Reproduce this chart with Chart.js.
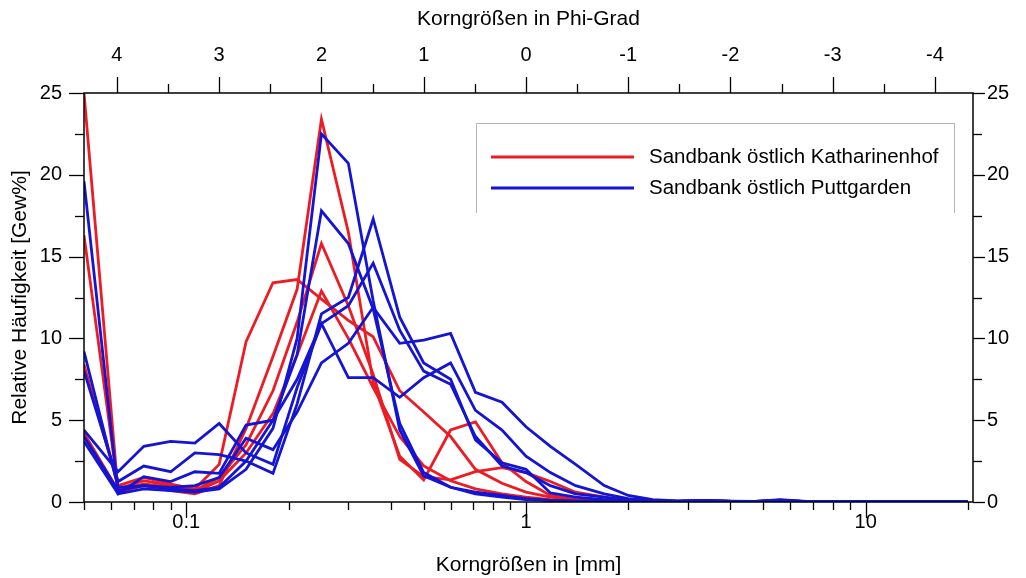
<!DOCTYPE html>
<html>
<head>
<meta charset="utf-8">
<script src="https://cdn.jsdelivr.net/npm/chart.js@4.4.1/dist/chart.umd.min.js"></script>
<style>
  html, body { margin: 0; padding: 0; background: #ffffff; }
  #c { display: block; }
</style>
</head>
<body>
<canvas id="c" width="1026" height="578"></canvas>
<script>
// Sieve classes (lower class limit, mm), quarter-phi steps
const sizesMm = [0.05, 0.063, 0.075, 0.09, 0.106, 0.125, 0.15, 0.18, 0.212, 0.25,
  0.3, 0.355, 0.425, 0.5, 0.6, 0.71, 0.85, 1.0, 1.18, 1.4, 1.7, 2.0,
  2.36, 2.8, 3.35, 4.0, 4.75, 5.6, 6.7, 8.0, 9.5, 11.2, 13.2, 16.0, 20.0];

// Relative frequency [Gew%] per sample – Sandbank östlich Katharinenhof
const kath1 = [25.0, 0.6, 1.0, 0.7, 0.5, 1.0, 4.5, 8.9, 13.0, 23.4, 16.5, 7.3, 2.8, 1.35, 4.4, 4.9, 2.4, 1.25, 0.4, 0.15, 0.05, 0.02,
  0.01, 0, 0, 0, 0, 0, 0, 0, 0, 0, 0, 0, 0];
const kath2 = [16.3, 0.8, 1.3, 1.0, 0.7, 1.5, 3.5, 6.8, 11.0, 15.8, 12.0, 7.8, 2.6, 1.55, 1.35, 1.85, 2.1, 1.8, 1.25, 0.6, 0.3, 0.1,
  0.05, 0.02, 0, 0, 0, 0, 0, 0, 0, 0, 0, 0, 0];
const kath3 = [8.4, 1.0, 1.5, 1.1, 0.8, 2.3, 9.8, 13.4, 13.6, 12.4, 11.1, 10.1, 6.8, 5.5, 4.0, 2.0, 1.15, 0.6, 0.3, 0.15, 0.05, 0.02,
  0, 0, 0, 0, 0, 0, 0, 0, 0, 0, 0, 0, 0];
const kath4 = [4.2, 0.7, 1.1, 0.9, 0.6, 1.3, 3.0, 5.4, 9.0, 12.9, 10.0, 7.0, 4.0, 2.2, 1.3, 0.8, 0.5, 0.3, 0.15, 0.05, 0.02, 0.01,
  0, 0, 0, 0, 0, 0, 0, 0, 0, 0, 0, 0, 0];

// Relative frequency [Gew%] per sample – Sandbank östlich Puttgarden
const putt1 = [19.6, 0.5, 0.8, 0.7, 0.6, 0.8, 2.0, 4.5, 10.0, 22.5, 20.7, 12.3, 4.4, 1.6, 0.9, 0.5, 0.3, 0.15, 0.1, 0.05, 0.03, 0.02,
  0.02, 0.01, 0.03, 0.01, 0, 0.02, 0, 0, 0, 0, 0, 0, 0];
const putt2 = [9.2, 0.9, 1.0, 0.8, 0.7, 0.9, 2.5, 5.0, 9.0, 17.8, 15.8, 11.8, 4.8, 1.8, 0.9, 0.6, 0.4, 0.2, 0.1, 0.05, 0.03, 0.02,
  0.02, 0.01, 0.04, 0.02, 0.01, 0.03, 0, 0, 0, 0, 0, 0, 0];
const putt3 = [8.0, 1.25, 2.2, 1.85, 3.0, 2.9, 2.5, 1.75, 6.0, 11.5, 12.5, 17.3, 11.3, 8.5, 7.5, 3.8, 2.4, 2.0, 0.55, 0.3, 0.15, 0.1,
  0.05, 0.03, 0.08, 0.04, 0.03, 0.1, 0.02, 0, 0, 0, 0, 0, 0];
const putt4 = [4.4, 1.85, 3.4, 3.7, 3.6, 4.8, 3.0, 2.3, 7.0, 10.9, 12.0, 14.6, 10.5, 8.0, 7.2, 4.0, 2.2, 1.8, 1.0, 0.5, 0.3, 0.1,
  0.06, 0.04, 0.1, 0.05, 0.03, 0.12, 0.02, 0, 0, 0, 0, 0, 0];
const putt5 = [4.0, 0.7, 1.0, 0.9, 1.0, 1.5, 3.9, 3.2, 5.5, 8.5, 9.7, 11.9, 9.7, 9.9, 10.3, 6.7, 6.1, 4.6, 3.4, 2.3, 1.0, 0.4,
  0.15, 0.06, 0.1, 0.05, 0.04, 0.15, 0.03, 0.01, 0, 0, 0, 0, 0];
const putt6 = [3.7, 0.5, 1.55, 1.25, 1.85, 1.75, 4.7, 5.0, 7.5, 10.9, 7.6, 7.6, 6.4, 7.6, 8.5, 5.6, 4.4, 2.8, 1.8, 1.0, 0.5, 0.2,
  0.1, 0.05, 0.08, 0.04, 0.03, 0.1, 0.02, 0, 0, 0, 0, 0, 0];

// Axis tick values
const mmTicks = [0.05, 0.06, 0.07, 0.08, 0.09, 0.1, 0.2, 0.3, 0.4, 0.5, 0.6, 0.7, 0.8, 0.9,
  1, 2, 3, 4, 5, 6, 7, 8, 9, 10, 20];
const mmLabelled = [0.1, 1, 10];
const phiMajor = [4, 3, 2, 1, 0, -1, -2, -3, -4];
const phiMinor = [3.5, 2.5, 1.5, 0.5, -0.5, -1.5, -2.5, -3.5];
const yMajor = [0, 5, 10, 15, 20, 25];
const yMinor = [2.5, 7.5, 12.5, 17.5, 22.5];

const legendItems = [
  { label: 'Sandbank östlich Katharinenhof', color: '#ec1c24' },
  { label: 'Sandbank östlich Puttgarden', color: '#1414d2' }
];

const RED = legendItems[0].color;
const BLUE = legendItems[1].color;
const FONT = '"Liberation Sans", Arial, Helvetica, sans-serif';

const toPoints = arr => sizesMm.map((d, i) => ({ x: d, y: arr[i] }));
const mkSet = (label, arr, color, order) => ({
  label, data: toPoints(arr), borderColor: color, backgroundColor: color,
  borderWidth: 2.8, pointRadius: 0, tension: 0, fill: false, order,
  borderJoinStyle: 'miter', xAxisID: 'x', yAxisID: 'y'
});

const datasets = [
  mkSet('K1', kath1, RED, 1), mkSet('K2', kath2, RED, 1),
  mkSet('K3', kath3, RED, 1), mkSet('K4', kath4, RED, 1),
  mkSet('P1', putt1, BLUE, 0), mkSet('P2', putt2, BLUE, 0),
  mkSet('P3', putt3, BLUE, 0), mkSet('P4', putt4, BLUE, 0),
  mkSet('P5', putt5, BLUE, 0), mkSet('P6', putt6, BLUE, 0)
];

const X_MIN = 0.05, X_MAX = 20.7;
const phiToMm = p => Math.pow(2, -p);

// Frame, tick marks and legend box
const framePlugin = {
  id: 'frame',
  afterDatasetsDraw(chart) {
    const { ctx, chartArea: a, scales } = chart;
    ctx.save();
    ctx.strokeStyle = '#000';
    ctx.lineWidth = 1.5;
    ctx.strokeRect(a.left, a.top, a.right - a.left, a.bottom - a.top);
    ctx.lineWidth = 1.3;
    const vTick = (x, y0, y1) => { ctx.beginPath(); ctx.moveTo(x, y0); ctx.lineTo(x, y1); ctx.stroke(); };
    const hTick = (y, x0, x1) => { ctx.beginPath(); ctx.moveTo(x0, y); ctx.lineTo(x1, y); ctx.stroke(); };
    // bottom mm ticks
    mmTicks.forEach(v => {
      const x = Math.round(scales.x.getPixelForValue(v)) + 0.5;
      const len = mmLabelled.includes(v) ? 16 : 8;
      vTick(x, a.bottom, a.bottom + len);
    });
    // top phi ticks
    phiMajor.forEach(p => {
      const x = Math.round(scales.xTop.getPixelForValue(phiToMm(p))) + 0.5;
      vTick(x, a.top, a.top - 16);
    });
    phiMinor.forEach(p => {
      const x = Math.round(scales.xTop.getPixelForValue(phiToMm(p))) + 0.5;
      vTick(x, a.top, a.top - 9);
    });
    // left and right ticks
    yMajor.forEach(v => {
      const y = Math.round(scales.y.getPixelForValue(v)) + 0.5;
      hTick(y, a.left - 15, a.left);
      hTick(y, a.right, a.right + 12);
    });
    yMinor.forEach(v => {
      const y = Math.round(scales.y.getPixelForValue(v)) + 0.5;
      hTick(y, a.left - 9, a.left);
      hTick(y, a.right, a.right + 9);
    });
    ctx.restore();
  },
  afterDraw(chart) {
    const { ctx } = chart;
    ctx.save();
    // legend box (open at the bottom)
    const bx0 = 476.5, by0 = 123.5, bx1 = 954.5, by1 = 213;
    ctx.strokeStyle = '#b4b4b4';
    ctx.lineWidth = 1;
    ctx.beginPath();
    ctx.moveTo(bx0, by1); ctx.lineTo(bx0, by0); ctx.lineTo(bx1, by0); ctx.lineTo(bx1, by1);
    ctx.stroke();
    ctx.font = '20.5px ' + FONT;
    ctx.textBaseline = 'middle';
    ctx.textAlign = 'left';
    legendItems.forEach((it, i) => {
      const y = 157 + i * 31;
      ctx.strokeStyle = it.color;
      ctx.lineWidth = 2.8;
      ctx.beginPath(); ctx.moveTo(491, y); ctx.lineTo(634, y); ctx.stroke();
      ctx.fillStyle = '#000';
      ctx.fillText(it.label, 649, y);
    });
    ctx.restore();
  }
};

const tickFont = { family: FONT, size: 20 };
const titleFont = { family: FONT, size: 21 };

new Chart(document.getElementById('c'), {
  type: 'line',
  data: { datasets },
  plugins: [framePlugin],
  options: {
    responsive: false,
    animation: false,
    events: [],
    layout: { padding: 0 },
    plugins: { legend: { display: false }, tooltip: { enabled: false } },
    scales: {
      x: {
        type: 'logarithmic', position: 'bottom', min: X_MIN, max: X_MAX,
        afterBuildTicks: s => { s.ticks = mmTicks.map(v => ({ value: v })); },
        afterFit: s => { s.height = 76; },
        grid: { display: false, drawTicks: false },
        border: { display: false },
        ticks: {
          autoSkip: false, maxRotation: 0, padding: 8, color: '#000', font: tickFont,
          callback: v => (mmLabelled.includes(v) ? String(v) : '')
        },
        title: { display: true, text: 'Korngrößen in [mm]', color: '#000', font: titleFont, padding: { top: 0, bottom: 0 } }
      },
      xTop: {
        type: 'logarithmic', position: 'top', min: X_MIN, max: X_MAX,
        afterBuildTicks: s => { s.ticks = phiMajor.map(p => ({ value: phiToMm(p) })); },
        afterFit: s => { s.height = 93; },
        grid: { display: false, drawTicks: false },
        border: { display: false },
        ticks: {
          autoSkip: false, maxRotation: 0, padding: 26, color: '#000', font: tickFont,
          callback: v => String(Math.round(-Math.log2(v)))
        },
        title: { display: true, text: 'Korngrößen in Phi-Grad', color: '#000', font: titleFont, padding: { top: 7, bottom: 0 } }
      },
      y: {
        type: 'linear', position: 'left', min: 0, max: 25,
        afterBuildTicks: s => { s.ticks = yMajor.map(v => ({ value: v })); },
        afterFit: s => { s.width = 84; },
        grid: { display: false, drawTicks: false },
        border: { display: false },
        ticks: { padding: 22, color: '#000', font: tickFont },
        title: { display: true, text: 'Relative Häufigkeit [Gew%]', color: '#000', font: titleFont, padding: { top: 8, bottom: 0 } }
      },
      yRight: {
        type: 'linear', position: 'right', min: 0, max: 25,
        afterBuildTicks: s => { s.ticks = yMajor.map(v => ({ value: v })); },
        afterFit: s => { s.width = 53; },
        grid: { display: false, drawTicks: false },
        border: { display: false },
        ticks: { padding: 14, color: '#000', font: tickFont }
      }
    }
  }
});
</script>
</body>
</html>
